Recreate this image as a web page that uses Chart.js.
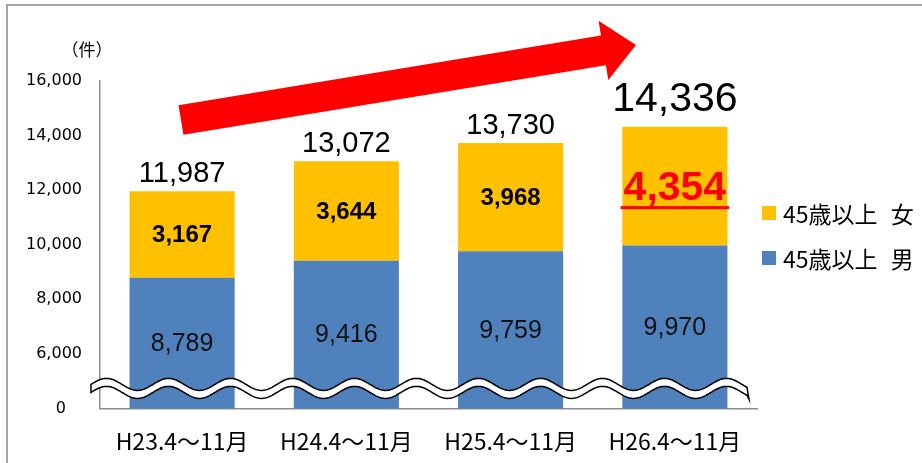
<!DOCTYPE html>
<html lang="ja">
<head>
<meta charset="utf-8">
<title>45歳以上 件数の推移</title>
<script src="https://cdn.jsdelivr.net/npm/chart.js@4.4.1/dist/chart.umd.min.js"></script>
<style>
  html, body { margin: 0; padding: 0; background: #fff; }
  #wrap { position: relative; width: 922px; height: 463px; overflow: hidden; }
  #frame {
    position: absolute; left: 6px; top: 4px; right: -4px; bottom: -4px;
    border-top: 2px solid #a6a6a6; border-left: 2px solid #a6a6a6;
    pointer-events: none;
  }
  #legend {
    position: absolute; left: 762px; top: 199px; margin: 0; padding: 0;
    list-style: none; font: 23px "Noto Sans CJK JP", sans-serif; color: #000;
    word-spacing: 8px;
  }
  #legend li { display: flex; align-items: center; height: 28px; margin-bottom: 17px; white-space: nowrap; }
  #legend span.box { width: 14px; height: 14px; margin-right: 7px; }
</style>
</head>
<body>
<div id="wrap">
  <canvas id="chart" width="922" height="463"></canvas>
  <div id="frame"></div>
  <ul id="legend"></ul>
</div>
<script>
// data
const periods = ["H23.4～11月", "H24.4～11月", "H25.4～11月", "H26.4～11月"];
const maleCounts = [8789, 9416, 9759, 9970];
const femaleCounts = [3167, 3644, 3968, 4354];
const totalCounts = [11987, 13072, 13730, 14336];
const seriesNames = ["45歳以上 男", "45歳以上 女"];
const seriesColors = ["#4f81bd", "#ffc000"];
// axis is broken: the bottom tick (4000) is shown as 0
const yTicks = [4000, 6000, 8000, 10000, 12000, 14000, 16000];

const fmt = n => n.toLocaleString("en-US");

// wavy break band across the bottom of the bars
function drawBreak(ctx, x0, x1, yc) {
  const amp = 6, period = 62, half = 4;
  const wave = x => amp * Math.sin(2 * Math.PI * (x - x0) / period + Math.PI);
  ctx.beginPath();
  for (let x = x0; x <= x1; x += 1) {
    ctx.lineTo(x, yc - half + wave(x));
  }
  ctx.lineTo(x1 + 2, yc + half + wave(x1) + 4);
  for (let x = x1; x >= x0; x -= 1) {
    ctx.lineTo(x, yc + half + wave(x));
  }
  ctx.closePath();
  ctx.fillStyle = "#fff";
  ctx.fill();
  ctx.lineWidth = 1.5;
  ctx.strokeStyle = "#000";
  ctx.stroke();
}

function drawArrow(ctx, sx, sy, tx, ty) {
  const len = Math.hypot(tx - sx, ty - sy);
  const ux = (tx - sx) / len, uy = (ty - sy) / len;
  const nx = -uy, ny = ux;
  const shaft = 15, headW = 30, headL = 33;
  const hx = tx - ux * headL, hy = ty - uy * headL;
  ctx.beginPath();
  ctx.moveTo(sx + nx * shaft, sy + ny * shaft);
  ctx.lineTo(hx + nx * shaft, hy + ny * shaft);
  ctx.lineTo(hx + nx * headW, hy + ny * headW);
  ctx.lineTo(tx, ty);
  ctx.lineTo(hx - nx * headW, hy - ny * headW);
  ctx.lineTo(hx - nx * shaft, hy - ny * shaft);
  ctx.lineTo(sx - nx * shaft, sy - ny * shaft);
  ctx.closePath();
  ctx.fillStyle = "#ff0000";
  ctx.fill();
}

const decorPlugin = {
  id: "decor",
  afterDatasetsDraw(chart) {
    const ctx = chart.ctx;
    const area = chart.chartArea;
    const maleBars = chart.getDatasetMeta(0).data;
    const femaleBars = chart.getDatasetMeta(1).data;
    ctx.save();

    drawBreak(ctx, area.left - 9, area.right - 10, area.bottom - 20);

    ctx.textAlign = "center";
    ctx.textBaseline = "middle";

    // male values, centred in the visible part of the bar
    ctx.font = "25px 'Liberation Sans', Arial, sans-serif";
    ctx.fillStyle = "#111";
    maleBars.forEach((bar, i) => {
      const base = Math.min(bar.base, area.bottom);
      ctx.fillText(fmt(maleCounts[i]), bar.x, (bar.y + base) / 2 + 1);
    });

    // female values
    femaleBars.forEach((bar, i) => {
      const last = i === femaleBars.length - 1;
      const cy = (bar.y + bar.base) / 2 + 1;
      const txt = fmt(femaleCounts[i]);
      if (last) {
        ctx.font = "bold 41px 'Liberation Sans', Arial, sans-serif";
        ctx.fillStyle = "#ff0000";
        ctx.fillText(txt, bar.x, cy + 2);
        const w = ctx.measureText(txt).width;
        ctx.fillRect(bar.x - w / 2 - 3, cy + 19, w + 6, 3);
      } else {
        ctx.font = "bold 24px 'Liberation Sans', Arial, sans-serif";
        ctx.fillStyle = "#000";
        ctx.fillText(txt, bar.x, cy);
      }
    });

    // totals on top
    ctx.textBaseline = "alphabetic";
    ctx.fillStyle = "#000";
    femaleBars.forEach((bar, i) => {
      const last = i === femaleBars.length - 1;
      ctx.font = (last ? "41px" : "29px") + " 'Liberation Sans', Arial, sans-serif";
      ctx.fillText(fmt(totalCounts[i]), bar.x, bar.y - (last ? 16 : 9));
    });

    // unit label
    ctx.font = "17px 'Noto Sans CJK JP', sans-serif";
    ctx.textBaseline = "middle";
    ctx.fillText("（件）", area.left - 13, 50);

    // rising trend arrow
    drawArrow(ctx, area.left + 81, area.top + 39, area.left + 536, area.top - 36);

    ctx.restore();
  }
};

const ctx = document.getElementById("chart").getContext("2d");
const chart = new Chart(ctx, {
  type: "bar",
  data: {
    labels: periods,
    datasets: [
      { label: seriesNames[0], data: maleCounts, backgroundColor: seriesColors[0] },
      { label: seriesNames[1], data: femaleCounts, backgroundColor: seriesColors[1] }
    ]
  },
  options: {
    responsive: false,
    animation: false,
    layout: { padding: { top: 81, right: 165, bottom: -11, left: 8 } },
    plugins: {
      legend: { display: false },
      tooltip: { enabled: false }
    },
    datasets: {
      bar: { barPercentage: 0.64, categoryPercentage: 1 }
    },
    scales: {
      x: {
        stacked: true,
        grid: { display: false, drawTicks: false },
        border: { display: true, color: "#8c8c8c", width: 1.5 },
        ticks: {
          color: "#000",
          padding: 19,
          font: { family: "'Noto Sans CJK JP', sans-serif", size: 23 }
        }
      },
      y: {
        stacked: true,
        min: 4000,
        max: 16000,
        afterBuildTicks: scale => { scale.ticks = yTicks.map(v => ({ value: v })); },
        grid: { display: false, drawTicks: false },
        border: { display: true, color: "#8c8c8c", width: 1.5 },
        ticks: {
          color: "#000",
          padding: 18,
          font: { family: "'DejaVu Sans', sans-serif", size: 16 },
          callback: v => (v === 4000 ? "0\u2003" : fmt(v))
        }
      }
    }
  },
  plugins: [decorPlugin]
});

// legend, top item is the upper stack (女)
const legend = document.getElementById("legend");
[1, 0].forEach(i => {
  const li = document.createElement("li");
  li.innerHTML = '<span class="box" style="background:' + seriesColors[i] + '"></span>' + seriesNames[i];
  legend.appendChild(li);
});
</script>
</body>
</html>
